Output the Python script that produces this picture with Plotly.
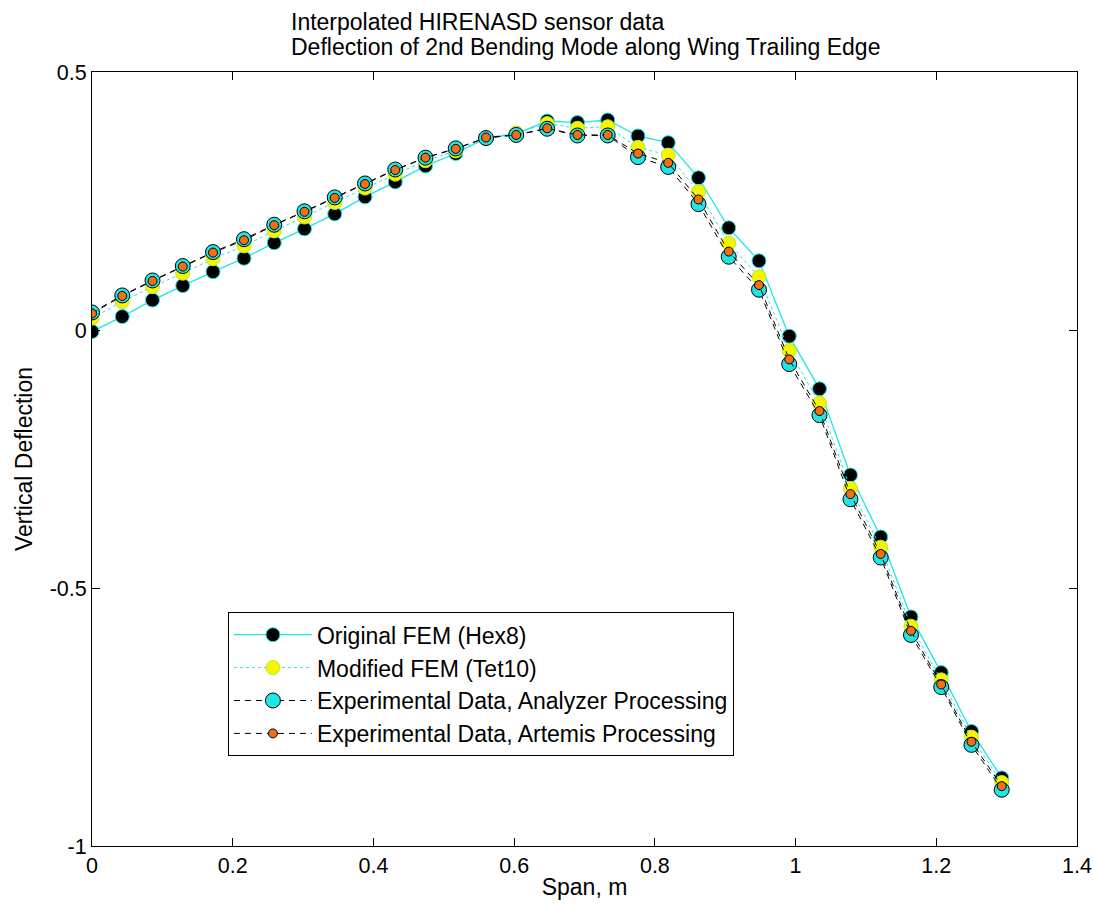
import plotly.graph_objects as go

span = [0.000, 0.043, 0.086, 0.129, 0.172, 0.216, 0.259, 0.302, 0.345, 0.388,
        0.431, 0.474, 0.517, 0.560, 0.603, 0.647, 0.690, 0.733, 0.776, 0.819,
        0.862, 0.905, 0.948, 0.991, 1.034, 1.078, 1.121, 1.164, 1.207, 1.250, 1.293]

original_hex8 = [-0.003, 0.026, 0.058, 0.086, 0.113, 0.139, 0.169, 0.196, 0.225, 0.258,
                 0.287, 0.318, 0.342, 0.372, 0.380, 0.405, 0.402, 0.407, 0.376, 0.363,
                 0.295, 0.198, 0.134, -0.012, -0.114, -0.281, -0.401, -0.556, -0.664, -0.778, -0.868]

modified_tet10 = [0.023, 0.055, 0.084, 0.110, 0.138, 0.163, 0.192, 0.219, 0.247, 0.275,
                  0.302, 0.328, 0.347, 0.372, 0.382, 0.400, 0.391, 0.394, 0.354, 0.339,
                  0.268, 0.168, 0.103, -0.040, -0.142, -0.307, -0.421, -0.574, -0.678, -0.789, -0.877]

exp_analyzer = [0.034, 0.067, 0.096, 0.124, 0.151, 0.176, 0.204, 0.230, 0.257, 0.284,
                0.311, 0.334, 0.352, 0.372, 0.378, 0.390, 0.377, 0.377, 0.335, 0.316,
                0.244, 0.142, 0.078, -0.066, -0.165, -0.328, -0.441, -0.591, -0.692, -0.804, -0.891]

exp_artemis = [0.032, 0.066, 0.095, 0.123, 0.150, 0.174, 0.203, 0.229, 0.256, 0.283,
               0.310, 0.334, 0.351, 0.373, 0.378, 0.391, 0.378, 0.378, 0.342, 0.324,
               0.253, 0.152, 0.087, -0.057, -0.157, -0.318, -0.434, -0.583, -0.687, -0.798, -0.884]

x_ticks = [0, 0.2, 0.4, 0.6, 0.8, 1.0, 1.2, 1.4]
x_tick_labels = ["0", "0.2", "0.4", "0.6", "0.8", "1", "1.2", "1.4"]
y_ticks = [-1, -0.5, 0, 0.5]
y_tick_labels = ["-1", "-0.5", "0", "0.5"]

title_lines = ["Interpolated HIRENASD sensor data",
               "Deflection of 2nd Bending Mode along Wing Trailing Edge"]

CYAN = "#22e4e4"
FONT = "Liberation Sans, Arial, sans-serif"

fig = go.Figure()
fig.add_trace(go.Scatter(
    x=span, y=original_hex8, mode="lines+markers", name="Original FEM (Hex8)",
    line=dict(color=CYAN, width=1.3),
    marker=dict(size=14, color="black", line=dict(color=CYAN, width=1))))
fig.add_trace(go.Scatter(
    x=span, y=modified_tet10, mode="lines+markers", name="Modified FEM (Tet10)",
    line=dict(color=CYAN, width=1, dash="dot"),
    marker=dict(size=14, color="#f5f500", line=dict(color="#b8e830", width=1))))
fig.add_trace(go.Scatter(
    x=span, y=exp_analyzer, mode="lines+markers",
    name="Experimental Data, Analyzer Processing",
    line=dict(color="black", width=1, dash="6px,5px"),
    marker=dict(size=15, color="#22e4e4", line=dict(color="black", width=1))))
fig.add_trace(go.Scatter(
    x=span, y=exp_artemis, mode="lines+markers",
    name="Experimental Data, Artemis Processing",
    line=dict(color="black", width=1, dash="6px,5px"),
    marker=dict(size=9, color="#f07018", line=dict(color="black", width=1))))

axis_common = dict(
    showline=True, linecolor="black", linewidth=1, mirror="ticks",
    ticks="inside", ticklen=8, tickcolor="black", tickwidth=1,
    showgrid=False, zeroline=False, automargin=False,
    tickfont=dict(family=FONT, size=21.5, color="black"),
)

annotations = [
    dict(text=title_lines[0], x=0.2, xref="paper", y=1.0646, yref="paper",
         xanchor="left", yanchor="middle", showarrow=False,
         font=dict(family=FONT, size=23, color="black")),
    dict(text=title_lines[1], x=0.2, xref="paper", y=1.0323, yref="paper",
         xanchor="left", yanchor="middle", showarrow=False,
         font=dict(family=FONT, size=23, color="black")),
]

fig.update_layout(
    width=1093, height=906,
    paper_bgcolor="white", plot_bgcolor="white",
    margin=dict(l=92, r=16, t=72, b=60),
    annotations=annotations,
    xaxis=dict(range=[0, 1.4], tickvals=x_ticks, ticktext=x_tick_labels,
               title=dict(text="Span, m", font=dict(family=FONT, size=23, color="black"), standoff=2),
               **axis_common),
    yaxis=dict(range=[-1, 0.5], tickvals=y_ticks, ticktext=y_tick_labels,
               title=dict(text="Vertical Deflection", font=dict(family=FONT, size=23, color="black"), standoff=10),
               **axis_common),
    legend=dict(
        x=0.138, y=0.302, xanchor="left", yanchor="top",
        bgcolor="white", bordercolor="black", borderwidth=1,
        font=dict(family=FONT, size=23, color="black"),
        itemsizing="trace", itemwidth=78),
    showlegend=True,
)

fig.write_html(
    "out.html",
    config={"displayModeBar": False},
    post_script="document.body.style.margin='0';document.body.style.padding='0';"
                "document.body.style.overflow='hidden';",
)
